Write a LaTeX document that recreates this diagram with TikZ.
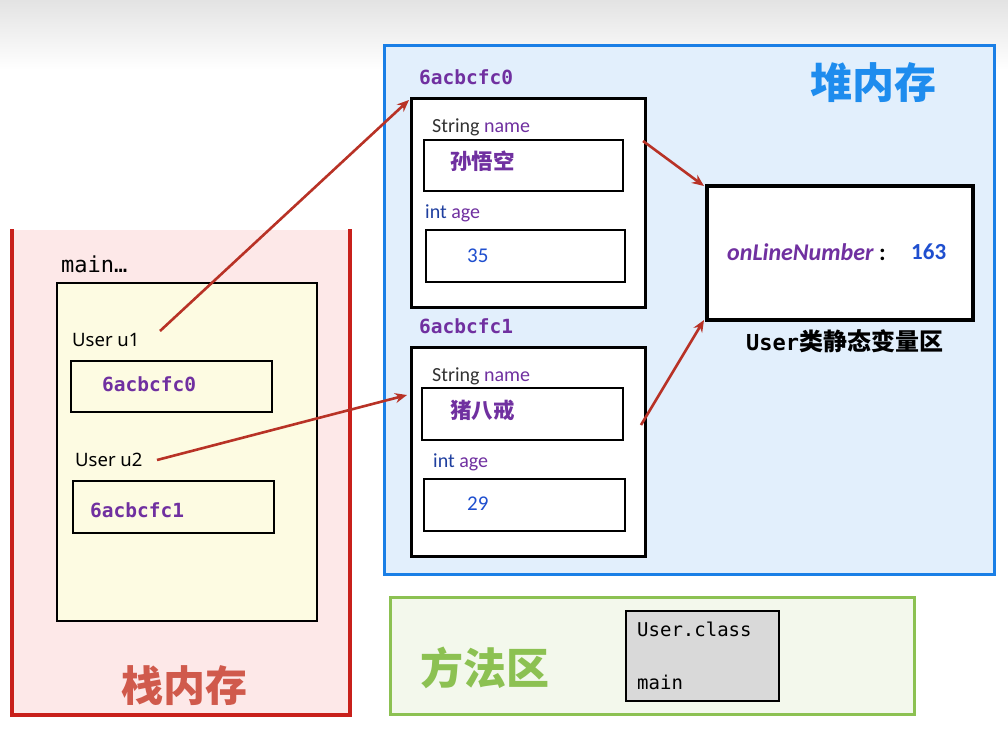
\documentclass[tikz,border=0pt]{standalone}
\usepackage{fontspec}
\setmainfont{Carlito}
\setmonofont{DejaVu Sans Mono}
\newfontfamily\cjk{Noto Sans CJK SC}
\newfontfamily\nsans{Noto Sans}
\usetikzlibrary{arrows.meta,calc}
\definecolor{stackred}{HTML}{C8201B}
\definecolor{stackfill}{HTML}{FDE8E8}
\definecolor{heapblue}{HTML}{1A7FE6}
\definecolor{heapfill}{HTML}{E2EFFC}
\definecolor{methgreen}{HTML}{8CC152}
\definecolor{methfill}{HTML}{F3F8EC}
\definecolor{framefill}{HTML}{FDFBE2}
\definecolor{arrred}{HTML}{B83226}
\definecolor{addr}{HTML}{7030A0}
\definecolor{varblue}{HTML}{1F4FCF}
\definecolor{typeblue}{HTML}{1F3F9F}
\definecolor{stacktxt}{HTML}{D05A4C}
\definecolor{heaptxt}{HTML}{1E8CEE}
\begin{document}
\begin{tikzpicture}[x=1pt,y=-1pt,
  region/.style={draw=#1, line width=3pt, inner sep=0pt, anchor=north west},
  objbox/.style={draw=black, line width=2.6pt, fill=white, inner sep=0pt, anchor=north west},
  fieldbox/.style={draw=black, line width=2pt, fill=white, inner sep=0pt, anchor=north west},
  refbox/.style={draw=black, line width=2pt, fill=framefill, inner sep=0pt, anchor=north west},
  addrtxt/.style={font=\ttfamily\bfseries\fontsize{19.5}{22}\selectfont, text=addr, anchor=west, inner sep=0pt},
  monotxt/.style={font=\ttfamily\fontsize{19}{21}\selectfont, text=black, anchor=west, inner sep=0pt},
  fieldtxt/.style={font=\fontsize{20}{22}\selectfont, anchor=west, inner sep=0pt},
  valtxt/.style={font=\fontsize{21}{23}\selectfont, text=varblue, anchor=west, inner sep=0pt},
  usertxt/.style={font=\nsans\fontsize{18.5}{21}\selectfont, anchor=west, inner sep=0pt},
  bigcjk/.style={font=\cjk\bfseries\fontsize{42}{44}\selectfont, inner sep=0pt},
  namecjk/.style={font=\cjk\bfseries\fontsize{21.5}{24}\selectfont, text=addr, anchor=west, inner sep=0pt},
  arr/.style={draw=arrred, line width=2.6pt, -{Stealth[length=12pt,width=10pt]}}
]
\useasboundingbox (0,0) rectangle (1008,744);
\shade[top color=black!11, bottom color=white] (0,0) rectangle (1008,70);

% ---------------- stack ----------------
\fill[stackfill] (12,230) rectangle (350,715);
\draw[stackred, line width=3.5pt] (12,229) -- (12,715) -- (350,715) -- (350,229);
\node[monotxt, font=\ttfamily\fontsize{22}{24}\selectfont] (mainlab) at (61,264) {main…};
\node[draw=black, line width=1.5pt, fill=framefill, minimum width=260pt, minimum height=338pt, inner sep=0pt, anchor=north west] (frame) at (56,282) {};
\node[usertxt] (u1) at (72,340) {User u1};
\node[refbox, minimum width=201pt, minimum height=51pt] (r1) at (70,360) {};
\node[addrtxt] (r1t) at (102,384) {6acbcfc0};
\node[usertxt] (u2) at (75,460) {User u2};
\node[refbox, minimum width=201pt, minimum height=52pt] (r2) at (72,480) {};
\node[addrtxt] (r2t) at (90,510) {6acbcfc1};
\node[bigcjk, text=stacktxt] (stacklab) at (184,686) {栈内存};

% ---------------- heap ----------------
\node[region=heapblue, fill=heapfill, minimum width=610pt, minimum height=529pt] (heap) at (383,44) {};
\node[bigcjk, text=heaptxt] (heaplab) at (873,83) {堆内存};

\node[addrtxt] (a0) at (419,77) {6acbcfc0};
\node[objbox, minimum width=234pt, minimum height=209pt] (o1) at (410,97) {};
\node[fieldtxt] (n1) at (432,127) {\textcolor{black!80}{String} \textcolor{addr}{name}};
\node[fieldbox, minimum width=199pt, minimum height=51pt] (f1) at (423,139) {};
\node[namecjk] (v1) at (450,161) {孙悟空};
\node[fieldtxt] (g1) at (425,213) {\textcolor{typeblue}{int} \textcolor{addr}{age}};
\node[fieldbox, minimum width=199pt, minimum height=52pt] (h1) at (425,229) {};
\node[valtxt] (w1) at (467,256) {35};

\node[addrtxt] (a1) at (419,326) {6acbcfc1};
\node[objbox, minimum width=234pt, minimum height=209pt] (o2) at (410,346) {};
\node[fieldtxt] (n2) at (432,376) {\textcolor{black!80}{String} \textcolor{addr}{name}};
\node[fieldbox, minimum width=201pt, minimum height=52pt] (f2) at (421,387) {};
\node[namecjk] (v2) at (450,410) {猪八戒};
\node[fieldtxt] (g2) at (433,462) {\textcolor{typeblue}{int} \textcolor{addr}{age}};
\node[fieldbox, minimum width=201pt, minimum height=52pt] (h2) at (423,478) {};
\node[valtxt] (w2) at (467,504) {29};

\node[draw=black, line width=4pt, fill=white, minimum width=266pt, minimum height=134pt, inner sep=0pt, anchor=north west] (st) at (705,184) {};
\node[anchor=west, inner sep=0pt, font=\bfseries\itshape\fontsize{24}{26}\selectfont, text=addr] (ol) at (727,252) {onLineNumber\textcolor{black}{\upshape\ :}};
\node[anchor=west, inner sep=0pt, font=\bfseries\fontsize{23}{26}\selectfont, text=varblue] (ov) at (911,252) {163};
\node[anchor=west, inner sep=0pt] (stlab) at (746,341) {\ttfamily\bfseries\fontsize{22}{25}\selectfont User\cjk\bfseries\fontsize{24}{26}\selectfont 类静态变量区};

% ---------------- method area ----------------
\node[region=methgreen, fill=methfill, minimum width=524pt, minimum height=117pt] (meth) at (389,596) {};
\node[bigcjk, text=methgreen, font=\cjk\bfseries\fontsize{43}{45}\selectfont] (methlab) at (485,668) {方法区};
\node[draw=black, line width=1.5pt, fill=black!15, minimum width=153pt, minimum height=90pt, inner sep=0pt, anchor=north west] (cls) at (625,610) {};
\node[monotxt] (clsa) at (637,629) {User.class};
\node[monotxt] (clsb) at (637,682) {main};

% ---------------- connectors ----------------
\coordinate (s1) at (160,331);
\coordinate (s2) at (157,460);
\coordinate (s3) at (643,141);
\coordinate (s4) at (641,425);
\draw[arr] (s1) -- ([xshift=-1pt,yshift=-3pt]o1.north west);
\draw[arr] (s2) -- ([xshift=-3pt,yshift=-49pt]o2.north west);
\draw[arr] (s3) -- ([xshift=-1pt,yshift=-2pt]st.north west);
\draw[arr] (s4) -- ([xshift=-1pt,yshift=2pt]st.south west);
\end{tikzpicture}
\end{document}
